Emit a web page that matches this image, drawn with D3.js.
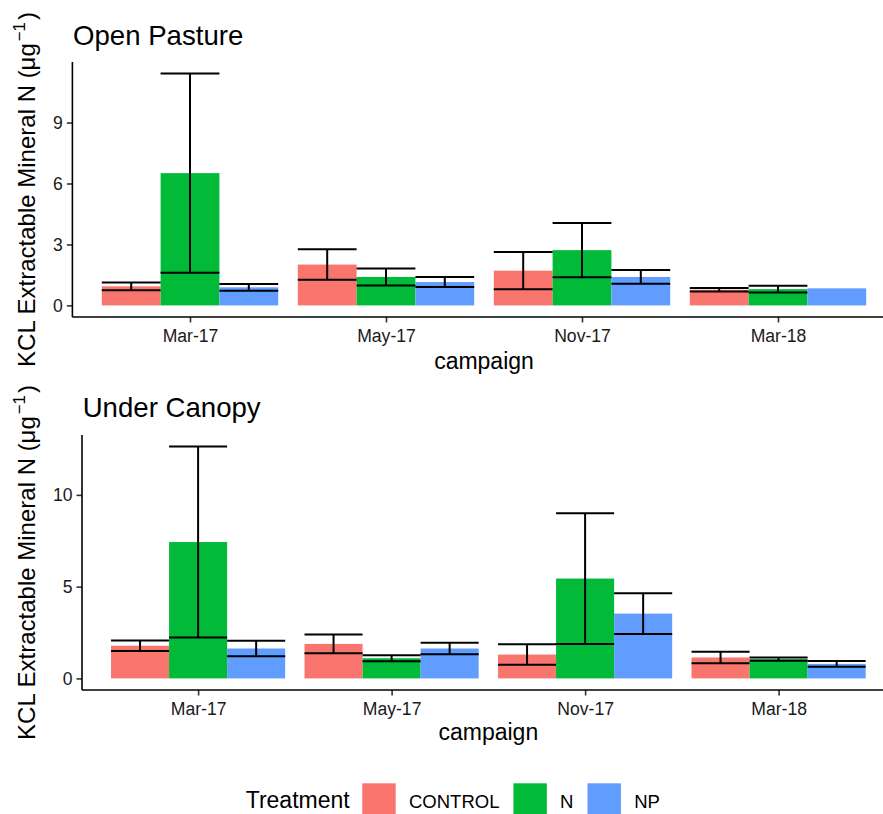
<!DOCTYPE html>
<html>
<head>
<meta charset="utf-8">
<script src="https://cdn.jsdelivr.net/npm/d3@7"></script>
<style>
  html, body { margin: 0; padding: 0; background: #fff; }
  svg { display: block; font-family: "Liberation Sans", Arial, sans-serif; }
</style>
</head>
<body>
<svg id="chart" width="883" height="814"></svg>
<script>
// ---- data ----
const categories = ["Mar-17", "May-17", "Nov-17", "Mar-18"];
const treatments = ["CONTROL", "N", "NP"];
const colors = ["#F8766D", "#00BA38", "#619CFF"];

// Open Pasture: mean and standard error per treatment (in category order)
const openControl = [0.94, 2.01, 1.71, 0.77];
const openN       = [6.51, 1.40, 2.72, 0.80];
const openNP      = [0.89, 1.15, 1.40, 0.84];
const openControlSE = [0.19, 0.75, 0.92, 0.09];
const openNSE       = [4.90, 0.42, 1.33, 0.17];
const openNPSE      = [0.165, 0.25, 0.34, null];
const openTicks = [0, 3, 6, 9];

// Under Canopy
const canopyControl = [1.78, 1.88, 1.30, 1.14];
const canopyN       = [7.43, 1.10, 5.44, 1.05];
const canopyNP      = [1.63, 1.63, 3.53, 0.79];
const canopyControlSE = [0.29, 0.51, 0.56, 0.31];
const canopyNSE       = [5.20, 0.16, 3.56, 0.09];
const canopyNPSE      = [0.42, 0.31, 1.11, 0.16];
const canopyTicks = [0, 5, 10];

function build(means, ses) {
  const rows = [];
  treatments.forEach((t, ti) => {
    categories.forEach((c, ci) => {
      rows.push({ cat: c, trt: t, mean: means[ti][ci], se: ses[ti][ci] });
    });
  });
  return rows;
}
const panels = [
  { title: "Open Pasture", rows: build([openControl, openN, openNP], [openControlSE, openNSE, openNPSE]),
    ticks: openTicks, left: 72.4, right: 895.6, top: 62, bottom: 317, titleY: 45, titleX: 73,
    tickBase: 342, xlabBase: 369, ytitleX: 35 },
  { title: "Under Canopy", rows: build([canopyControl, canopyN, canopyNP], [canopyControlSE, canopyNSE, canopyNPSE]),
    ticks: canopyTicks, left: 82, right: 894.7, top: 435, bottom: 690, titleY: 417, titleX: 82.7,
    tickBase: 715, xlabBase: 740, ytitleX: 35 }
];

const svg = d3.select("#chart");
const textCol = "#1a1a1a";

panels.forEach(p => {
  const g = svg.append("g");
  const x = d3.scalePoint().domain(categories).range([p.left, p.right]).padding(0.6);
  const step = x.step();
  const xd = d3.scaleBand().domain(treatments).range([-0.45 * step, 0.45 * step]).padding(0);
  const maxV = d3.max(p.rows, d => d.mean + (d.se || 0));
  const y = d3.scaleLinear().domain([-0.05 * maxV, 1.05 * maxV]).range([p.bottom, p.top]);
  const color = d3.scaleOrdinal().domain(treatments).range(colors);

  // bars
  g.selectAll("rect.bar").data(p.rows).join("rect")
    .attr("class", "bar")
    .attr("x", d => x(d.cat) + xd(d.trt))
    .attr("width", xd.bandwidth())
    .attr("y", d => y(d.mean))
    .attr("height", d => y(0) - y(d.mean))
    .attr("fill", d => color(d.trt));

  // error bars
  const eb = p.rows.filter(d => d.se != null);
  const ebg = g.append("g").attr("stroke", "#000").attr("stroke-width", 2).attr("fill", "none");
  ebg.selectAll("line.v").data(eb).join("line")
    .attr("x1", d => x(d.cat) + xd(d.trt) + xd.bandwidth() / 2)
    .attr("x2", d => x(d.cat) + xd(d.trt) + xd.bandwidth() / 2)
    .attr("y1", d => y(d.mean - d.se)).attr("y2", d => y(d.mean + d.se));
  ebg.selectAll("line.hi").data(eb).join("line")
    .attr("x1", d => x(d.cat) + xd(d.trt)).attr("x2", d => x(d.cat) + xd(d.trt) + xd.bandwidth())
    .attr("y1", d => y(d.mean + d.se)).attr("y2", d => y(d.mean + d.se));
  ebg.selectAll("line.lo").data(eb).join("line")
    .attr("x1", d => x(d.cat) + xd(d.trt)).attr("x2", d => x(d.cat) + xd(d.trt) + xd.bandwidth())
    .attr("y1", d => y(d.mean - d.se)).attr("y2", d => y(d.mean - d.se));

  // axes
  const yAxis = g.append("g").attr("transform", `translate(${p.left},0)`)
    .call(d3.axisLeft(y).tickValues(p.ticks).tickSize(5.5).tickPadding(4).tickSizeOuter(0));
  const xAxis = g.append("g").attr("transform", `translate(0,${p.bottom})`)
    .call(d3.axisBottom(x).tickSize(5.5).tickPadding(4).tickSizeOuter(0));
  [yAxis, xAxis].forEach(a => {
    a.select(".domain").remove();
    a.selectAll(".tick line").attr("stroke", "#333").attr("stroke-width", 1.6);
    a.selectAll(".tick text").attr("fill", textCol).attr("font-size", "17.6px")
      .attr("font-family", "Liberation Sans, Arial, sans-serif");
  });
  xAxis.selectAll(".tick text").attr("dy", null).attr("y", p.tickBase - p.bottom);
  // axis lines
  g.append("line").attr("x1", p.left).attr("x2", p.left).attr("y1", p.top).attr("y2", p.bottom)
    .attr("stroke", "#000").attr("stroke-width", 1.6);
  g.append("line").attr("x1", p.left).attr("x2", p.right).attr("y1", p.bottom).attr("y2", p.bottom)
    .attr("stroke", "#000").attr("stroke-width", 1.6);

  // title
  g.append("text").attr("x", p.titleX).attr("y", p.titleY).attr("font-size", "27.6px")
    .attr("fill", "#000").text(p.title);
  // x label
  g.append("text").attr("x", (p.left + p.right) / 2).attr("y", p.xlabBase)
    .attr("text-anchor", "middle").attr("font-size", "23px").attr("fill", "#000").text("campaign");
  // y label
  const yt = g.append("text")
    .attr("transform", `translate(${p.ytitleX},${(p.top + p.bottom) / 2}) rotate(-90)`)
    .attr("text-anchor", "middle").attr("font-size", "24px").attr("fill", "#000");
  yt.append("tspan").text("KCL Extractable Mineral N (\u03BCg");
  yt.append("tspan").attr("font-size", "16.8px").attr("dx", "2").attr("dy", "-10").text("\u22121");
  yt.append("tspan").attr("dx", "2").attr("dy", "10").text(")");
});

// legend
const leg = svg.append("g");
let lx = 245.7;
const legBase = 808;
const lt = leg.append("text").attr("x", lx).attr("y", legBase).attr("font-size", "23px").attr("fill", "#000").text("Treatment");
lx += lt.node().getComputedTextLength() + 12.6;
treatments.forEach((t, i) => {
  leg.append("rect").attr("x", lx).attr("y", 783.3).attr("width", 33.4).attr("height", 33.4).attr("fill", colors[i]);
  lx += 33.4 + 13.3;
  const tx = leg.append("text").attr("x", lx).attr("y", legBase).attr("font-size", "18.5px").attr("fill", "#000").text(t);
  lx += tx.node().getComputedTextLength() + 14;
});
</script>
</body>
</html>
